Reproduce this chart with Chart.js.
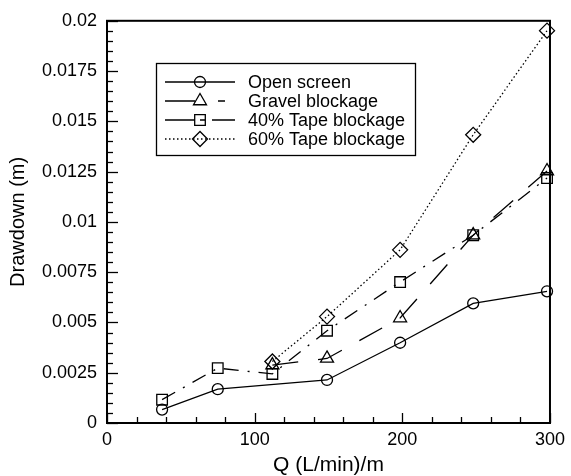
<!DOCTYPE html>
<html>
<head>
<meta charset="utf-8">
<script src="https://cdn.jsdelivr.net/npm/chart.js@4/dist/chart.umd.min.js"></script>
<style>
  html, body { margin: 0; padding: 0; background: #fff; }
  #wrap { width: 571px; height: 476px; }
</style>
</head>
<body>
<div id="wrap"><canvas id="myChart"></canvas></div>
<script>
// values
var flowOpen = [37.3, 75, 149, 198.5, 248, 298];
var drawOpen = [0.00067, 0.00168, 0.00214, 0.00399, 0.00595, 0.00655];
var flowGravel = [112, 149, 198.5, 248, 298];
var drawGravel = [0.00288, 0.00321, 0.00522, 0.00934, 0.01253];
var flowTape40 = [37.3, 75, 112, 149, 198.5, 248, 298];
var drawTape40 = [0.00116, 0.00273, 0.00244, 0.00459, 0.00701, 0.00934, 0.01218];
var flowTape60 = [112, 149, 198.5, 248, 298];
var drawTape60 = [0.00306, 0.00529, 0.00861, 0.01433, 0.01951];
var seriesNames = ["Open screen", "Gravel blockage", "40% Tape blockage", "60% Tape blockage"];
var xTicks = [0, 100, 200, 300];
var yTicks = [0, 0.0025, 0.005, 0.0075, 0.01, 0.0125, 0.015, 0.0175, 0.02];

const FONT = "'Liberation Sans', Arial, Helvetica, sans-serif";

function pts(xs, ys) {
    return xs.map(function (x, i) { return { x: x, y: ys[i] }; });
}

function series(label, xs, ys, style, radius, dash, legendDash) {
    return {
        label: label,
        data: pts(xs, ys),
        borderColor: "#000",
        borderWidth: 1.3,
        borderDash: dash,
        legendDash: legendDash,
        pointStyle: style,
        pointRadius: radius,
        pointBorderWidth: 1.3,
        pointBorderColor: "#000",
        pointBackgroundColor: "rgba(0,0,0,0)",
        fill: false,
        tension: 0,
        clip: false,
    };
}

function marker(ctx, style, r, x, y) {
    ctx.beginPath();
    if (style === "circle") {
        ctx.arc(x, y, r, 0, Math.PI * 2);
    } else if (style === "triangle") {
        ctx.moveTo(x, y - r);
        ctx.lineTo(x + 0.866 * r, y + 0.5 * r);
        ctx.lineTo(x - 0.866 * r, y + 0.5 * r);
        ctx.closePath();
    } else if (style === "rect") {
        var s = Math.SQRT1_2 * r;
        ctx.rect(x - s, y - s, 2 * s, 2 * s);
    } else {
        ctx.moveTo(x - r, y);
        ctx.lineTo(x, y - r);
        ctx.lineTo(x + r, y);
        ctx.lineTo(x, y + r);
        ctx.closePath();
    }
    ctx.stroke();
}

// inward ticks, frame and the boxed legend
const framePlugin = {
    id: "frame",
    afterDraw(chart) {
        const ctx = chart.ctx;
        const a = chart.chartArea;
        const xs = chart.scales.x, ys = chart.scales.y;
        ctx.save();
        ctx.strokeStyle = "#000";
        ctx.lineWidth = 1.3;
        for (let v = 0; v <= 300.01; v += 20) {
            const px = Math.round(xs.getPixelForValue(v)) + 0.5;
            const len = v % 100 === 0 ? 10 : 6;
            ctx.beginPath();
            ctx.moveTo(px, a.bottom);
            ctx.lineTo(px, a.bottom - len);
            ctx.stroke();
        }
        for (let i = 0; i <= 40; i++) {
            const py = Math.round(ys.getPixelForValue(i * 0.0005)) + 0.5;
            const len = i % 5 === 0 ? 11 : 6;
            ctx.beginPath();
            ctx.moveTo(a.left, py);
            ctx.lineTo(a.left + len, py);
            ctx.stroke();
        }
        ctx.lineWidth = 2;
        ctx.strokeRect(a.left, a.top, a.right - a.left, a.bottom - a.top);

        // legend
        ctx.fillStyle = "#fff";
        ctx.fillRect(156.5, 63.5, 259, 92);
        ctx.lineWidth = 1.3;
        ctx.strokeRect(156.5, 63.5, 259, 92);
        ctx.font = "18px " + FONT;
        ctx.textBaseline = "middle";
        ctx.fillStyle = "#000";
        chart.data.datasets.forEach(function (ds, i) {
            const y = 82 + i * 19;
            ctx.lineWidth = 1.3;
            ctx.setLineDash(ds.legendDash);
            ctx.beginPath();
            ctx.moveTo(165, y);
            ctx.lineTo(235, y);
            ctx.stroke();
            ctx.setLineDash([]);
            marker(ctx, ds.pointStyle, ds.pointRadius, 200, y);
            ctx.fillText(ds.label, 248, y + 1);
        });
        ctx.restore();
    },
};

new Chart(document.getElementById("myChart"), {
    type: "line",
    data: {
        datasets: [
            series(seriesNames[0], flowOpen, drawOpen, "circle", 5.5, [], []),
            series(seriesNames[1], flowGravel, drawGravel, "triangle", 7.5, [26, 20], [30, 23, 7, 100]),
            series(seriesNames[2], flowTape40, drawTape40, "rect", 7.5, [15, 9, 2, 9], [30, 5, 5, 7, 30]),
            series(seriesNames[3], flowTape60, drawTape60, "rectRot", 7.5, [1.5, 2.5], [1.5, 2.5]),
        ],
    },
    options: {
        responsive: true,
        maintainAspectRatio: false,
        animation: false,
        layout: { padding: { left: 0, right: 16, top: 15, bottom: 0 } },
        plugins: {
            legend: { display: false },
            tooltip: { enabled: false },
        },
        scales: {
            x: {
                type: "linear",
                min: 0,
                max: 300,
                afterFit: function (s) { s.height = 53; },
                afterBuildTicks: function (s) { s.ticks = xTicks.map(function (v) { return { value: v }; }); },
                ticks: {
                    color: "#000",
                    padding: 6,
                    maxRotation: 0,
                    font: { family: FONT, size: 18 },
                },
                grid: { display: false, drawTicks: false },
                border: { display: false },
                title: {
                    display: true,
                    text: "Q (L/min)/m",
                    color: "#000",
                    font: { family: FONT, size: 21, lineHeight: 1 },
                    padding: { top: 0, bottom: 0 },
                },
            },
            y: {
                type: "linear",
                min: 0,
                max: 0.02,
                afterFit: function (s) { s.width = 107; },
                afterBuildTicks: function (s) { s.ticks = yTicks.map(function (v) { return { value: v }; }); },
                ticks: {
                    color: "#000",
                    padding: 10,
                    font: { family: FONT, size: 18 },
                    callback: function (v) { return String(+v.toFixed(4)); },
                },
                grid: { display: false, drawTicks: false },
                border: { display: false },
                title: {
                    display: true,
                    text: "Drawdown (m)",
                    color: "#000",
                    font: { family: FONT, size: 20, lineHeight: 1 },
                    padding: { top: 8, bottom: 0 },
                },
            },
        },
    },
    plugins: [framePlugin],
});
</script>
</body>
</html>
